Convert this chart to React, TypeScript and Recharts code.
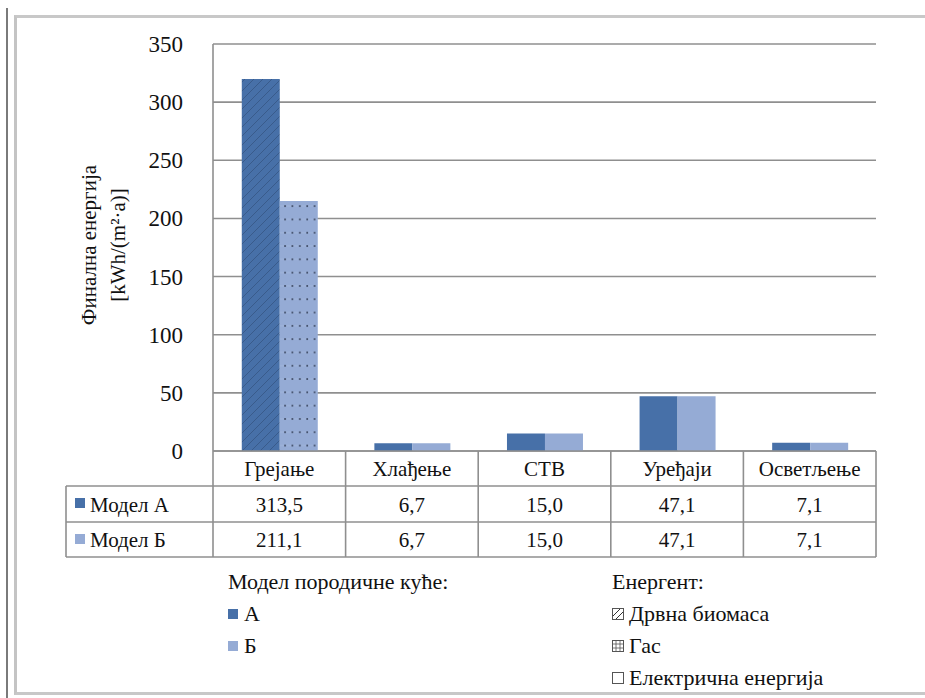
import { BarChart, Bar, XAxis, YAxis, CartesianGrid, Cell } from 'recharts';

// categories and values
const categories = ['Грејање', 'Хлађење', 'СТВ', 'Уређаји', 'Осветљење'];
// bar heights as drawn in the picture
const modelA = [320.0, 6.7, 15.0, 47.1, 7.1];
const modelB = [215.0, 6.7, 15.0, 47.1, 7.1];
// values printed in the data table
const tableA = ['313,5', '6,7', '15,0', '47,1', '7,1'];
const tableB = ['211,1', '6,7', '15,0', '47,1', '7,1'];
// energy carrier per category (hatch = wood biomass, grid = gas, plain = electricity)
const carrierA = ['hatch', 'plain', 'plain', 'plain', 'plain'];
const carrierB = ['grid', 'plain', 'plain', 'plain', 'plain'];
const yTicks = [0, 50, 100, 150, 200, 250, 300, 350];

const seriesNames = ['Модел А', 'Модел Б'];
const legendModelTitle = 'Модел породичне куће:';
const legendModels = ['А', 'Б'];
const legendCarrierTitle = 'Енергент:';
const legendCarriers = ['Дрвна биомаса', 'Гас', 'Електрична енергија'];

const COLOR_A = '#4770a8';
const COLOR_B = '#95abd5';
const LINE = '#8f8f8f';
const FONT = '"Times New Roman", "Liberation Serif", Times, serif';

const data = categories.map((name, i) => ({
  name,
  a: modelA[i],
  b: modelB[i],
  ta: tableA[i],
  tb: tableB[i],
}));

const fillFor = (kind: string, base: string, pat: string) => (kind === 'plain' ? base : `url(#${pat})`);

function YTick(props: any) {
  const { x, y, payload } = props;
  return (
    <text x={x - 22} y={y} dy={8} textAnchor="end" style={{ fontFamily: FONT }} fontSize={23} fill="#111">
      {payload.value}
    </text>
  );
}

function TableTick(props: any) {
  const { x, y, index, width } = props;
  const cw = width / categories.length;
  const left = x - cw / 2;
  const right = x + cw / 2;
  const r0 = y;
  const r1 = y + 35;
  const r2 = y + 71;
  const r3 = y + 106;
  const row = data[index];
  const textProps = { style: { fontFamily: FONT }, fontSize: 21, fill: '#111', textAnchor: 'middle' as const };
  return (
    <g>
      <line x1={right} y1={r0} x2={right} y2={r3} stroke={LINE} strokeWidth={1.6} />
      <text x={x} y={r0 + 25} {...textProps}>{row.name}</text>
      <text x={x} y={r1 + 26} {...textProps}>{row.ta}</text>
      <text x={x} y={r2 + 25} {...textProps}>{row.tb}</text>
      {index === 0 && (
        <g>
          <line x1={left} y1={r0} x2={left} y2={r3} stroke={LINE} strokeWidth={1.6} />
          <line x1={66} y1={r1} x2={left + width} y2={r1} stroke={LINE} strokeWidth={1.6} />
          <line x1={66} y1={r2} x2={left + width} y2={r2} stroke={LINE} strokeWidth={1.6} />
          <line x1={66} y1={r3} x2={left + width} y2={r3} stroke={LINE} strokeWidth={1.6} />
          <line x1={66} y1={r1} x2={66} y2={r3} stroke={LINE} strokeWidth={1.6} />
          <rect x={75} y={r1 + 12} width={10} height={10} fill={COLOR_A} />
          <text x={90} y={r1 + 26} style={{ fontFamily: FONT }} fontSize={21} fill="#111">{seriesNames[0]}</text>
          <rect x={75} y={r2 + 12} width={10} height={10} fill={COLOR_B} />
          <text x={90} y={r2 + 25} style={{ fontFamily: FONT }} fontSize={21} fill="#111">{seriesNames[1]}</text>
        </g>
      )}
    </g>
  );
}

function Swatch({ kind }: { kind: string }) {
  return (
    <svg width={12} height={12} style={{ marginRight: 5 }}>
      <rect x={0.5} y={0.5} width={11} height={11} fill="#fff" stroke="#555" strokeWidth={1} />
      {kind === 'hatch' && (
        <g stroke="#333" strokeWidth={1}>
          <line x1={1} y1={8} x2={8} y2={1} />
          <line x1={4} y1={11} x2={11} y2={4} />
        </g>
      )}
      {kind === 'grid' && (
        <g stroke="#555" strokeWidth={0.8}>
          <line x1={4} y1={1} x2={4} y2={11} />
          <line x1={8} y1={1} x2={8} y2={11} />
          <line x1={1} y1={4} x2={11} y2={4} />
          <line x1={1} y1={8} x2={11} y2={8} />
        </g>
      )}
    </svg>
  );
}

export default function App() {
  const textStyle = { fontFamily: FONT, fontSize: 22, color: '#111', lineHeight: '32px' };
  return (
    <div style={{ position: 'absolute', left: 0, top: 0, width: 925, height: 698, background: '#fff', overflow: 'hidden', fontFamily: FONT }}>
      <svg width={0} height={0} style={{ position: 'absolute' }}>
        <defs>
          <pattern id="hatchA" patternUnits="userSpaceOnUse" width={9} height={9}>
            <rect width={9} height={9} fill={COLOR_A} />
            <path d="M-2,2 L2,-2 M0,9 L9,0 M7,11 L11,7" stroke="#34527e" strokeWidth={0.7} />
          </pattern>
          <pattern id="gridB" patternUnits="userSpaceOnUse" width={7.4} height={13.3}>
            <rect width={7.4} height={13.3} fill={COLOR_B} />
            <path d="M0,6.6 L7.4,6.6" stroke="#a9bbdd" strokeWidth={0.6} />
            <rect x={3} y={5.8} width={1.7} height={1.7} fill="#3a4660" />
          </pattern>
        </defs>
      </svg>

      {/* outer frame */}
      <div style={{ position: 'absolute', left: 6, top: 8, width: 2, height: 690, background: '#7a7a7a' }} />
      <div
        style={{
          position: 'absolute',
          left: 14,
          top: 15,
          width: 925,
          height: 680,
          borderLeft: '3px solid #c4c4c4',
          borderTop: '3px solid #c8c8c8',
          borderBottom: '3px solid #c8c8c8',
          boxSizing: 'border-box',
        }}
      />

      <div style={{ position: 'absolute', left: 0, top: 0 }}>
        <BarChart
          width={925}
          height={698}
          data={data}
          margin={{ top: 44, right: 49, left: 113, bottom: 140 }}
          barCategoryGap="21.7%"
          barGap={0}
        >
          <CartesianGrid vertical={false} stroke={LINE} strokeWidth={1.6} />
          <YAxis
            width={100}
            domain={[0, 350]}
            ticks={yTicks}
            interval={0}
            axisLine={{ stroke: LINE, strokeWidth: 1.6 }}
            tickLine={false}
            tick={<YTick />}
          />
          <XAxis
            dataKey="name"
            height={107}
            interval={0}
            tickLine={false}
            tickSize={0}
            tickMargin={0}
            axisLine={{ stroke: LINE, strokeWidth: 1.6 }}
            tick={<TableTick />}
          />
          <Bar dataKey="a" isAnimationActive={false}>
            {data.map((d, i) => (
              <Cell key={d.name} fill={fillFor(carrierA[i], COLOR_A, 'hatchA')} />
            ))}
          </Bar>
          <Bar dataKey="b" isAnimationActive={false}>
            {data.map((d, i) => (
              <Cell key={d.name} fill={fillFor(carrierB[i], COLOR_B, 'gridB')} />
            ))}
          </Bar>
        </BarChart>
      </div>

      {/* y axis title */}
      <div
        style={{
          position: 'absolute',
          left: 110 - 150,
          top: 245 - 35,
          width: 300,
          height: 70,
          transform: 'rotate(-90deg)',
          textAlign: 'center',
          fontFamily: FONT,
          fontSize: 21,
          lineHeight: '29px',
          color: '#111',
        }}
      >
        <div>Финална енергија</div>
        <div>[kWh/(m²·a)]</div>
      </div>

      {/* legend: house model */}
      <div style={{ position: 'absolute', left: 228, top: 566, ...textStyle }}>
        <div>{legendModelTitle}</div>
        {legendModels.map((m, i) => (
          <div key={m} style={{ display: 'flex', alignItems: 'center' }}>
            <span style={{ display: 'inline-block', width: 10, height: 10, background: i === 0 ? COLOR_A : COLOR_B, marginRight: 6 }} />
            {m}
          </div>
        ))}
      </div>

      {/* legend: energy carrier */}
      <div style={{ position: 'absolute', left: 612, top: 566, ...textStyle }}>
        <div>{legendCarrierTitle}</div>
        {legendCarriers.map((c, i) => (
          <div key={c} style={{ display: 'flex', alignItems: 'center' }}>
            <Swatch kind={['hatch', 'grid', 'plain'][i]} />
            {c}
          </div>
        ))}
      </div>
    </div>
  );
}
